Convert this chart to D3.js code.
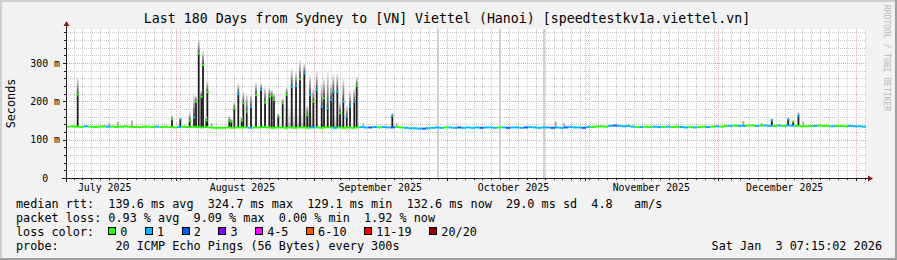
<!DOCTYPE html>
<html>
<head>
<meta charset="utf-8">
<script src="https://cdn.jsdelivr.net/npm/d3@7"></script>
<style>
body { margin: 0; background: #f2f2f2; }
svg { display: block; }
text { font-family: "DejaVu Sans Mono", monospace; white-space: pre; }
</style>
</head>
<body>
<svg id="chart"></svg>
<script>
// ---------------------------- data -----------------------------------

const startTime = Date.UTC(2025, 6, 7, 7, 15, 2);   // graph start (local time shown as UTC)
const endTime = Date.UTC(2026, 0, 3, 7, 15, 2);     // Sat Jan  3 07:15:02 2026
const DAY = 864e5;

// median rtt per day (ms), 180 days
const medianByDay = [
  134,135,134,133,135,134,133,134,135,134,
  134,133,134,135,134,133,133,134,134,133,
  134,133,134,133,132,133,134,133,134,133,
  132,133,132,131,131,131,132,131,132,132,
  132,131,132,132,133,132,131,132,132,131,
  132,131,132,132,131,132,132,131,132,132,
  131,132,131,132,131,132,133,132,132,133,
  132,133,132,132,133,132,131,130,130,129,
  129,130,131,132,131,132,132,131,132,131,
  132,131,132,131,132,132,131,132,132,131,
  132,132,131,132,133,132,131,132,132,131,
  132,131,132,133,132,132,131,133,133,134,
  135,134,136,137,136,135,136,134,133,133,
  134,133,134,133,133,134,133,134,133,132,
  133,132,133,134,133,134,135,134,136,136,
  137,136,136,137,137,136,137,137,136,136,
  137,136,137,137,136,135,135,136,136,137,
  136,136,135,136,136,135,136,135,135,134
];

// loss colour index per day (0 = no loss, 1 = 1/20, 2 = 2/20)
const lossByDay = [
  0,0,0,0,1,0,0,0,0,1,
  0,0,0,0,0,0,0,0,0,0,
  1,0,0,0,0,1,0,0,0,0,
  0,0,0,0,0,0,0,0,0,0,
  0,1,0,0,0,0,0,0,0,0,
  0,0,0,0,0,1,0,0,0,0,
  1,0,0,0,0,0,1,1,2,1,
  0,1,1,2,0,0,1,1,1,1,
  2,1,1,1,1,0,1,1,2,1,
  1,1,1,2,1,1,1,0,1,2,
  1,1,1,2,1,1,1,1,1,2,
  1,1,2,1,1,1,2,1,0,0,
  0,0,1,2,1,1,1,1,0,1,
  0,0,1,1,0,1,0,0,1,1,
  0,1,0,0,1,0,1,0,0,1,
  0,1,1,0,0,1,0,1,1,0,
  1,0,1,1,0,0,0,0,1,0,
  0,0,1,0,0,0,1,1,1,1
];

// latency spikes: [day offset, median ms, highest ping ms, loss colour index]
const spikes = [
  [2.63,218,264,0],[9.74,134,143,0],[11.7,134,147,0],[14.85,134,150,0],
  [23.85,153,164,0],[25.72,153,158,1],[27.84,150,173,0],[28.8,158,221,1],
  [29.25,199,215,0],[29.86,325,365,0],[30.45,212,230,0],[30.83,295,332,0],
  [31.57,150,160,0],[31.8,224,256,0],[32.79,134,143,0],[36.75,150,162,0],
  [37.2,147,155,0],[37.87,182,199,0],[38.77,219,247,1],[39.54,150,160,0],
  [39.9,195,225,0],[40.66,173,221,0],[41.63,186,221,1],[42.75,217,251,0],
  [43.88,230,247,1],[44.78,197,238,0],[45.75,212,238,0],[46.29,215,230,0],
  [46.8,204,221,0],[47.77,160,169,0],[48.76,195,208,0],[49.66,217,238,0],
  [50.79,238,286,1],[51.76,240,277,1],[52.65,258,308,0],[53.62,273,299,1],
  [54.3,164,190,0],[54.9,217,269,1],[55.65,199,235,0],[56.41,230,277,1],
  [57.54,186,247,1],[58.06,208,260,0],[58.89,182,277,1],[59.63,204,247,1],
  [60.15,225,269,1],[61.05,225,273,1],[61.66,169,200,0],[62.4,199,260,1],
  [63.17,160,190,1],[63.9,186,230,1],[64.87,199,234,1],[65.41,240,264,0],
  [66.9,132,143,1],[73.42,162,171,1],[74.41,132,143,1],[110.2,132,147,1],
  [112.1,132,143,1],[152.4,135,149,0],[156.5,135,143,0],[158.8,151,155,1],
  [162.5,153,157,1],[163.6,147,150,0],[164.8,162,173,1],[165.9,135,147,0]
];

// light smoke between the spikes: [from day, to day, top ms]
const haze = [[49.3, 55.4, 199], [59.4, 62.3, 178]];

// full height grey marks (day offsets)
const gapLines = [83.6, 97.65, 107.6];

const yMajor = [0, 100, 200, 300];
const yLabels = ["0  ", "100 m", "200 m", "300 m"];

const lossColors = ["#26ff00", "#00b8ff", "#0059ff", "#7e00ff", "#ff00ff", "#ff5500", "#ff0000", "#a10000"];
const lossLabels = ["0", "1", "2", "3", "4-5", "6-10", "11-19", "20/20"];

const titleText = "Last 180 Days from Sydney to [VN] Viettel (Hanoi) [speedtestkv1a.viettel.vn]";
const legendLines = [
  "median rtt:  139.6 ms avg  324.7 ms max  129.1 ms min  132.6 ms now  29.0 ms sd  4.8   am/s",
  "packet loss: 0.93 % avg  9.09 % max  0.00 % min  1.92 % now",
  "loss color:",
  "probe:        20 ICMP Echo Pings (56 Bytes) every 300s"
];
const stampText = "Sat Jan  3 07:15:02 2026";

// ---------------------------- chart -----------------------------------

const width = 897;
const height = 260;
const svg = d3.select('#chart')
  .attr('width', width)
  .attr('height', height);

const plotL = 66, plotR = 866, plotT = 29, plotB = 178;

const x = d3.scaleUtc().domain([startTime, endTime]).range([plotL, plotR]);
const y = d3.scaleLinear().domain([0, 389]).range([plotB, plotT]);
const dayX = d => x(startTime + d * DAY);

// background + 3d frame
svg.append('rect').attr('width', width).attr('height', height).attr('fill', '#f2f2f2');
svg.append('rect').attr('x', 0).attr('y', 0).attr('width', width).attr('height', 2).attr('fill', '#cfcfcf');
svg.append('rect').attr('x', 0).attr('y', 0).attr('width', 2).attr('height', height).attr('fill', '#cfcfcf');
svg.append('rect').attr('x', 0).attr('y', height - 2).attr('width', width).attr('height', 2).attr('fill', '#9e9e9e');
svg.append('rect').attr('x', width - 2).attr('y', 0).attr('width', 2).attr('height', height).attr('fill', '#9e9e9e');

// canvas
svg.append('rect')
  .attr('x', plotL).attr('y', plotT)
  .attr('width', plotR - plotL).attr('height', plotB - plotT)
  .attr('fill', '#ffffff');

const grid = svg.append('g');

// minor vertical grid: every 2 days from Jul 7
const minorTimes = d3.utcDay.range(Date.UTC(2025, 6, 7), endTime)
  .filter((d, i) => i % 2 === 0 && d >= startTime);
grid.selectAll('line.vmin').data(minorTimes).enter().append('line')
  .attr('x1', d => Math.round(x(d)) + 0.5).attr('x2', d => Math.round(x(d)) + 0.5)
  .attr('y1', plotT).attr('y2', plotB)
  .attr('stroke', '#c8c8c8').attr('stroke-dasharray', '1,1');

// minor horizontal grid every 20 ms
const yMinor = d3.range(20, 389, 20).filter(v => v % 100 !== 0);
grid.selectAll('line.hmin').data(yMinor).enter().append('line')
  .attr('x1', plotL).attr('x2', plotR)
  .attr('y1', d => Math.round(y(d)) + 0.5).attr('y2', d => Math.round(y(d)) + 0.5)
  .attr('stroke', '#c8c8c8').attr('stroke-dasharray', '1,1');

// major grid
const monthTimes = d3.utcMonth.range(startTime, endTime);
grid.selectAll('line.vmaj').data(monthTimes).enter().append('line')
  .attr('x1', d => Math.round(x(d)) + 0.5).attr('x2', d => Math.round(x(d)) + 0.5)
  .attr('y1', plotT).attr('y2', plotB + 3)
  .attr('stroke', '#eba3a3').attr('stroke-dasharray', '1,1');
grid.selectAll('line.hmaj').data(yMajor.slice(1)).enter().append('line')
  .attr('x1', plotL - 3).attr('x2', plotR)
  .attr('y1', d => Math.round(y(d)) + 0.5).attr('y2', d => Math.round(y(d)) + 0.5)
  .attr('stroke', '#eba3a3').attr('stroke-dasharray', '1,1');

// grey full height marks
svg.selectAll('rect.gap').data(gapLines).enter().append('rect')
  .attr('x', d => Math.round(dayX(d)) - 1).attr('y', plotT)
  .attr('width', 2).attr('height', plotB - plotT)
  .attr('fill', '#d0d0d0');

// smoke gradient
const defs = svg.append('defs');
const grad = defs.append('linearGradient').attr('id', 'smoke')
  .attr('x1', 0).attr('y1', 1).attr('x2', 0).attr('y2', 0);
grad.append('stop').attr('offset', '0%').attr('stop-color', '#3a3a3a');
grad.append('stop').attr('offset', '100%').attr('stop-color', '#f0f0f0');
const hazeGrad = defs.append('linearGradient').attr('id', 'haze')
  .attr('x1', 0).attr('y1', 1).attr('x2', 0).attr('y2', 0);
hazeGrad.append('stop').attr('offset', '0%').attr('stop-color', '#777777').attr('stop-opacity', 0.5);
hazeGrad.append('stop').attr('offset', '100%').attr('stop-color', '#dddddd').attr('stop-opacity', 0.05);

svg.selectAll('rect.haze').data(haze).enter().append('rect')
  .attr('x', d => dayX(d[0])).attr('width', d => dayX(d[1]) - dayX(d[0]))
  .attr('y', d => y(d[2])).attr('height', d => y(132) - y(d[2]))
  .attr('fill', 'url(#haze)');

const baseAt = d => medianByDay[Math.min(179, Math.floor(d))];
const barW = 1.8;

// dark body of each spike (from base up to median)
svg.selectAll('rect.body').data(spikes.filter(s => s[1] > baseAt(s[0]) + 2)).enter().append('rect')
  .attr('x', d => dayX(d[0]) - barW / 2).attr('width', barW)
  .attr('y', d => y(d[1])).attr('height', d => y(baseAt(d[0])) - y(d[1]))
  .attr('fill', '#1e1e1e');

// smoke above median
svg.selectAll('rect.smoke').data(spikes).enter().append('rect')
  .attr('x', d => dayX(d[0]) - barW / 2).attr('width', barW)
  .attr('y', d => y(d[2])).attr('height', d => y(d[1]) - y(d[2]))
  .attr('fill', d => d[1] > baseAt(d[0]) + 2 ? 'url(#smoke)' : '#a8a8a8');

// median line coloured by loss
svg.selectAll('line.med').data(medianByDay).enter().append('line')
  .attr('x1', (d, i) => dayX(i)).attr('x2', (d, i) => Math.min(plotR, dayX(i + 1)))
  .attr('y1', d => y(d)).attr('y2', d => y(d))
  .attr('stroke', (d, i) => lossColors[lossByDay[i]])
  .attr('stroke-width', 2);

svg.selectAll('line.spk').data(spikes.filter(s => s[1] > baseAt(s[0]) + 2)).enter().append('line')
  .attr('x1', d => dayX(d[0]) - 1).attr('x2', d => dayX(d[0]) + 1.2)
  .attr('y1', d => y(d[1])).attr('y2', d => y(d[1]))
  .attr('stroke', d => lossColors[d[3]])
  .attr('stroke-width', 2);

// ticks
svg.selectAll('line.ytick').data(yMajor).enter().append('line')
  .attr('x1', plotL - 3).attr('x2', plotL)
  .attr('y1', d => Math.round(y(d)) + 0.5).attr('y2', d => Math.round(y(d)) + 0.5)
  .attr('stroke', '#1f1f1f');
svg.selectAll('line.ymt').data(yMinor).enter().append('line')
  .attr('x1', plotL - 2).attr('x2', plotL)
  .attr('y1', d => Math.round(y(d)) + 0.5).attr('y2', d => Math.round(y(d)) + 0.5)
  .attr('stroke', '#1f1f1f');
svg.selectAll('line.xtick').data(monthTimes).enter().append('line')
  .attr('x1', d => Math.round(x(d)) + 0.5).attr('x2', d => Math.round(x(d)) + 0.5)
  .attr('y1', plotB).attr('y2', plotB + 3)
  .attr('stroke', '#1f1f1f');
svg.selectAll('line.xmt').data(minorTimes).enter().append('line')
  .attr('x1', d => Math.round(x(d)) + 0.5).attr('x2', d => Math.round(x(d)) + 0.5)
  .attr('y1', plotB).attr('y2', plotB + 2)
  .attr('stroke', '#1f1f1f');

// axes + arrows
svg.append('line').attr('x1', plotL - 4).attr('x2', plotR + 3)
  .attr('y1', plotB + 0.5).attr('y2', plotB + 0.5).attr('stroke', '#1f1f1f');
svg.append('line').attr('x1', plotL + 0.5).attr('x2', plotL + 0.5)
  .attr('y1', plotB + 4).attr('y2', plotT - 5).attr('stroke', '#1f1f1f');
svg.append('path').attr('d', `M${plotR + 2},${plotB - 2.5}L${plotR + 7},${plotB + 0.5}L${plotR + 2},${plotB + 3.5}Z`)
  .attr('fill', '#801f1f');
svg.append('path').attr('d', `M${plotL - 2.5},${plotT - 3}L${plotL + 0.5},${plotT - 8}L${plotL + 3.5},${plotT - 3}Z`)
  .attr('fill', '#801f1f');

// axis labels
svg.selectAll('text.ylab').data(yMajor).enter().append('text')
  .attr('x', 60).attr('y', d => y(d) + 3.5)
  .attr('text-anchor', 'end')
  .attr('font-size', '9.9px')
  .text((d, i) => yLabels[i]);

const labelMonths = d3.utcMonth.range(Date.UTC(2025, 6, 1), endTime)
  .map(m => +m + 15 * DAY)
  .filter(t => t > startTime && t < endTime);
svg.selectAll('text.xlab').data(labelMonths).enter().append('text')
  .attr('x', d => x(d)).attr('y', 190.5)
  .attr('text-anchor', 'middle')
  .attr('font-size', '9.9px')
  .text(d => d3.utcFormat('%B %Y')(new Date(d - 15 * DAY)));

svg.append('text')
  .attr('transform', `translate(15,${(plotT + plotB) / 2}) rotate(-90)`)
  .attr('text-anchor', 'middle')
  .attr('font-size', '11.8px')
  .text('Seconds');

// title
svg.append('text')
  .attr('x', 447).attr('y', 23)
  .attr('text-anchor', 'middle')
  .attr('font-size', '13.25px')
  .text(titleText);

// watermark
svg.append('text')
  .attr('transform', 'translate(884,5) rotate(90)')
  .attr('font-size', '8px')
  .attr('fill', '#b8b8b8')
  .text('RRDTOOL / TOBI OETIKER');

// legend
const legendY = [208.3, 222.3, 236, 250];
svg.selectAll('text.leg').data(legendLines).enter().append('text')
  .attr('x', 16).attr('y', (d, i) => legendY[i])
  .attr('font-size', '11.8px')
  .text(d => d);

const charW = 7.115;
let bx = 108.3;
lossLabels.forEach((lab, i) => {
  svg.append('rect')
    .attr('x', Math.round(bx) + 0.5).attr('y', 227.5)
    .attr('width', 7).attr('height', 7)
    .attr('fill', lossColors[i]).attr('stroke', '#000');
  svg.append('text')
    .attr('x', bx + 12).attr('y', legendY[2])
    .attr('font-size', '11.8px')
    .text(lab);
  bx += 11 + lab.length * charW + 18.6;
});

svg.append('text')
  .attr('x', 882).attr('y', legendY[3])
  .attr('text-anchor', 'end')
  .attr('font-size', '11.8px')
  .text(stampText);
</script>
</body>
</html>
